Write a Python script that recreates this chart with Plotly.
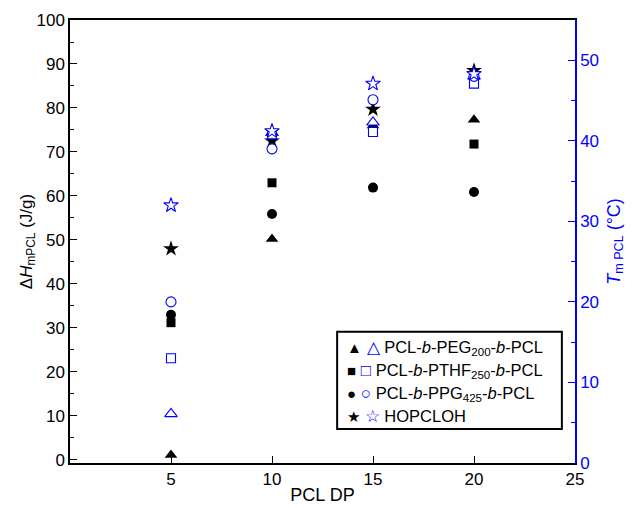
import plotly.graph_objects as go

# ---- data ----
dp = [5, 10, 15, 20]
dh_peg = [1.1, 50.2, 76.0, 77.3]
dh_pthf = [31.2, 63.0, 74.5, 71.8]
dh_ppg = [33.0, 55.9, 61.9, 60.9]
dh_hop = [48.0, 72.5, 79.7, 88.5]
tm_peg = [6.1, 41.0, 42.3, 48.0]
tm_pthf = [13.0, 40.8, 41.1, 47.1]
tm_ppg = [20.0, 39.0, 45.1, 48.0]
tm_hop = [32.0, 41.2, 47.1, 48.3]

x_ticks = [5, 10, 15, 20, 25]
legend_labels = [
    "PCL-<i>b</i>-PEG<sub>200</sub>-<i>b</i>-PCL",
    "PCL-<i>b</i>-PTHF<sub>250</sub>-<i>b</i>-PCL",
    "PCL-<i>b</i>-PPG<sub>425</sub>-<i>b</i>-PCL",
    "HOPCLOH",
]
filled_syms = ["▲", "■", "●", "★"]
open_syms = ["△", "□", "○", "☆"]

FONT = "Arial, Liberation Sans, sans-serif"
BLUE = "#0000FF"

fig = go.Figure()

black_specs = [(dh_peg, "triangle-up", 11), (dh_pthf, "square", 9),
               (dh_ppg, "circle", 10), (dh_hop, "star", 12)]
for vals, sym, sz in black_specs:
    fig.add_trace(go.Scatter(x=dp, y=vals, mode="markers", showlegend=False,
                             marker=dict(symbol=sym, size=sz, color="black",
                                         line=dict(width=0))))

blue_specs = [(tm_peg, "triangle-up", 11), (tm_pthf, "square", 9),
              (tm_ppg, "circle", 10), (tm_hop, "star", 11)]
for vals, sym, sz in blue_specs:
    fig.add_trace(go.Scatter(x=dp, y=vals, mode="markers", showlegend=False,
                             yaxis="y2",
                             marker=dict(symbol=sym, size=sz, color="white",
                                         line=dict(width=1.1, color=BLUE))))

# legend box
fig.add_shape(type="rect", xref="paper", yref="paper",
              x0=0.529, x1=0.974, y0=0.077, y1=0.296,
              line=dict(color="black", width=2), fillcolor="rgba(0,0,0,0)")
row_y = [0.260, 0.208, 0.156, 0.104]
for i in range(4):
    fig.add_annotation(xref="paper", yref="paper", x=0.545, y=row_y[i],
                       xanchor="left", yanchor="middle", showarrow=False,
                       text=(f"<span style='font-size:15px'>{filled_syms[i]}</span>"
                             f"<span style='color:{BLUE};font-size:17px'> {open_syms[i]}</span> "
                             f"{legend_labels[i]}"),
                       font=dict(family=FONT, size=16.5, color="black"))

fig.update_layout(
    width=633, height=508,
    margin=dict(l=70, r=58, t=20, b=45, autoexpand=False),
    paper_bgcolor="white", plot_bgcolor="white",
    font=dict(family=FONT, size=17, color="black"),
    xaxis=dict(range=[0, 25], tickvals=x_ticks, ticks="inside", ticklen=7,
               tickwidth=1, tickcolor="black", showgrid=False, zeroline=False,
               showline=True, linecolor="black", linewidth=1.5, mirror=True,
               automargin=False,
               title=dict(text="PCL DP", font=dict(size=18), standoff=0),
               tickfont=dict(size=17)),
    yaxis=dict(range=[-0.7, 100], dtick=10, tick0=0, ticks="inside", ticklen=7,
               tickcolor="black", showgrid=False, zeroline=False,
               showline=True, linecolor="black", linewidth=1.5,
               automargin=False,
               minor=dict(ticks="inside", ticklen=4, dtick=5, tick0=0,
                          tickcolor="black"),
               title=dict(text="Δ<i>H</i><sub>mPCL</sub> (J/g)",
                          font=dict(size=17), standoff=0),
               tickfont=dict(size=17)),
    yaxis2=dict(range=[0, 55], dtick=10, tick0=0, overlaying="y", side="right",
                ticks="inside", ticklen=7, tickcolor=BLUE, showgrid=False,
                zeroline=False, showline=True, linecolor=BLUE, linewidth=1.5,
                automargin=False,
                minor=dict(ticks="inside", ticklen=4, dtick=5, tick0=0,
                           tickcolor=BLUE),
                title=dict(text="<i>T</i><sub>m PCL</sub> (°C)",
                           font=dict(size=18, color=BLUE), standoff=9),
                tickfont=dict(size=17, color=BLUE)),
)

fig.write_html("out.html")
